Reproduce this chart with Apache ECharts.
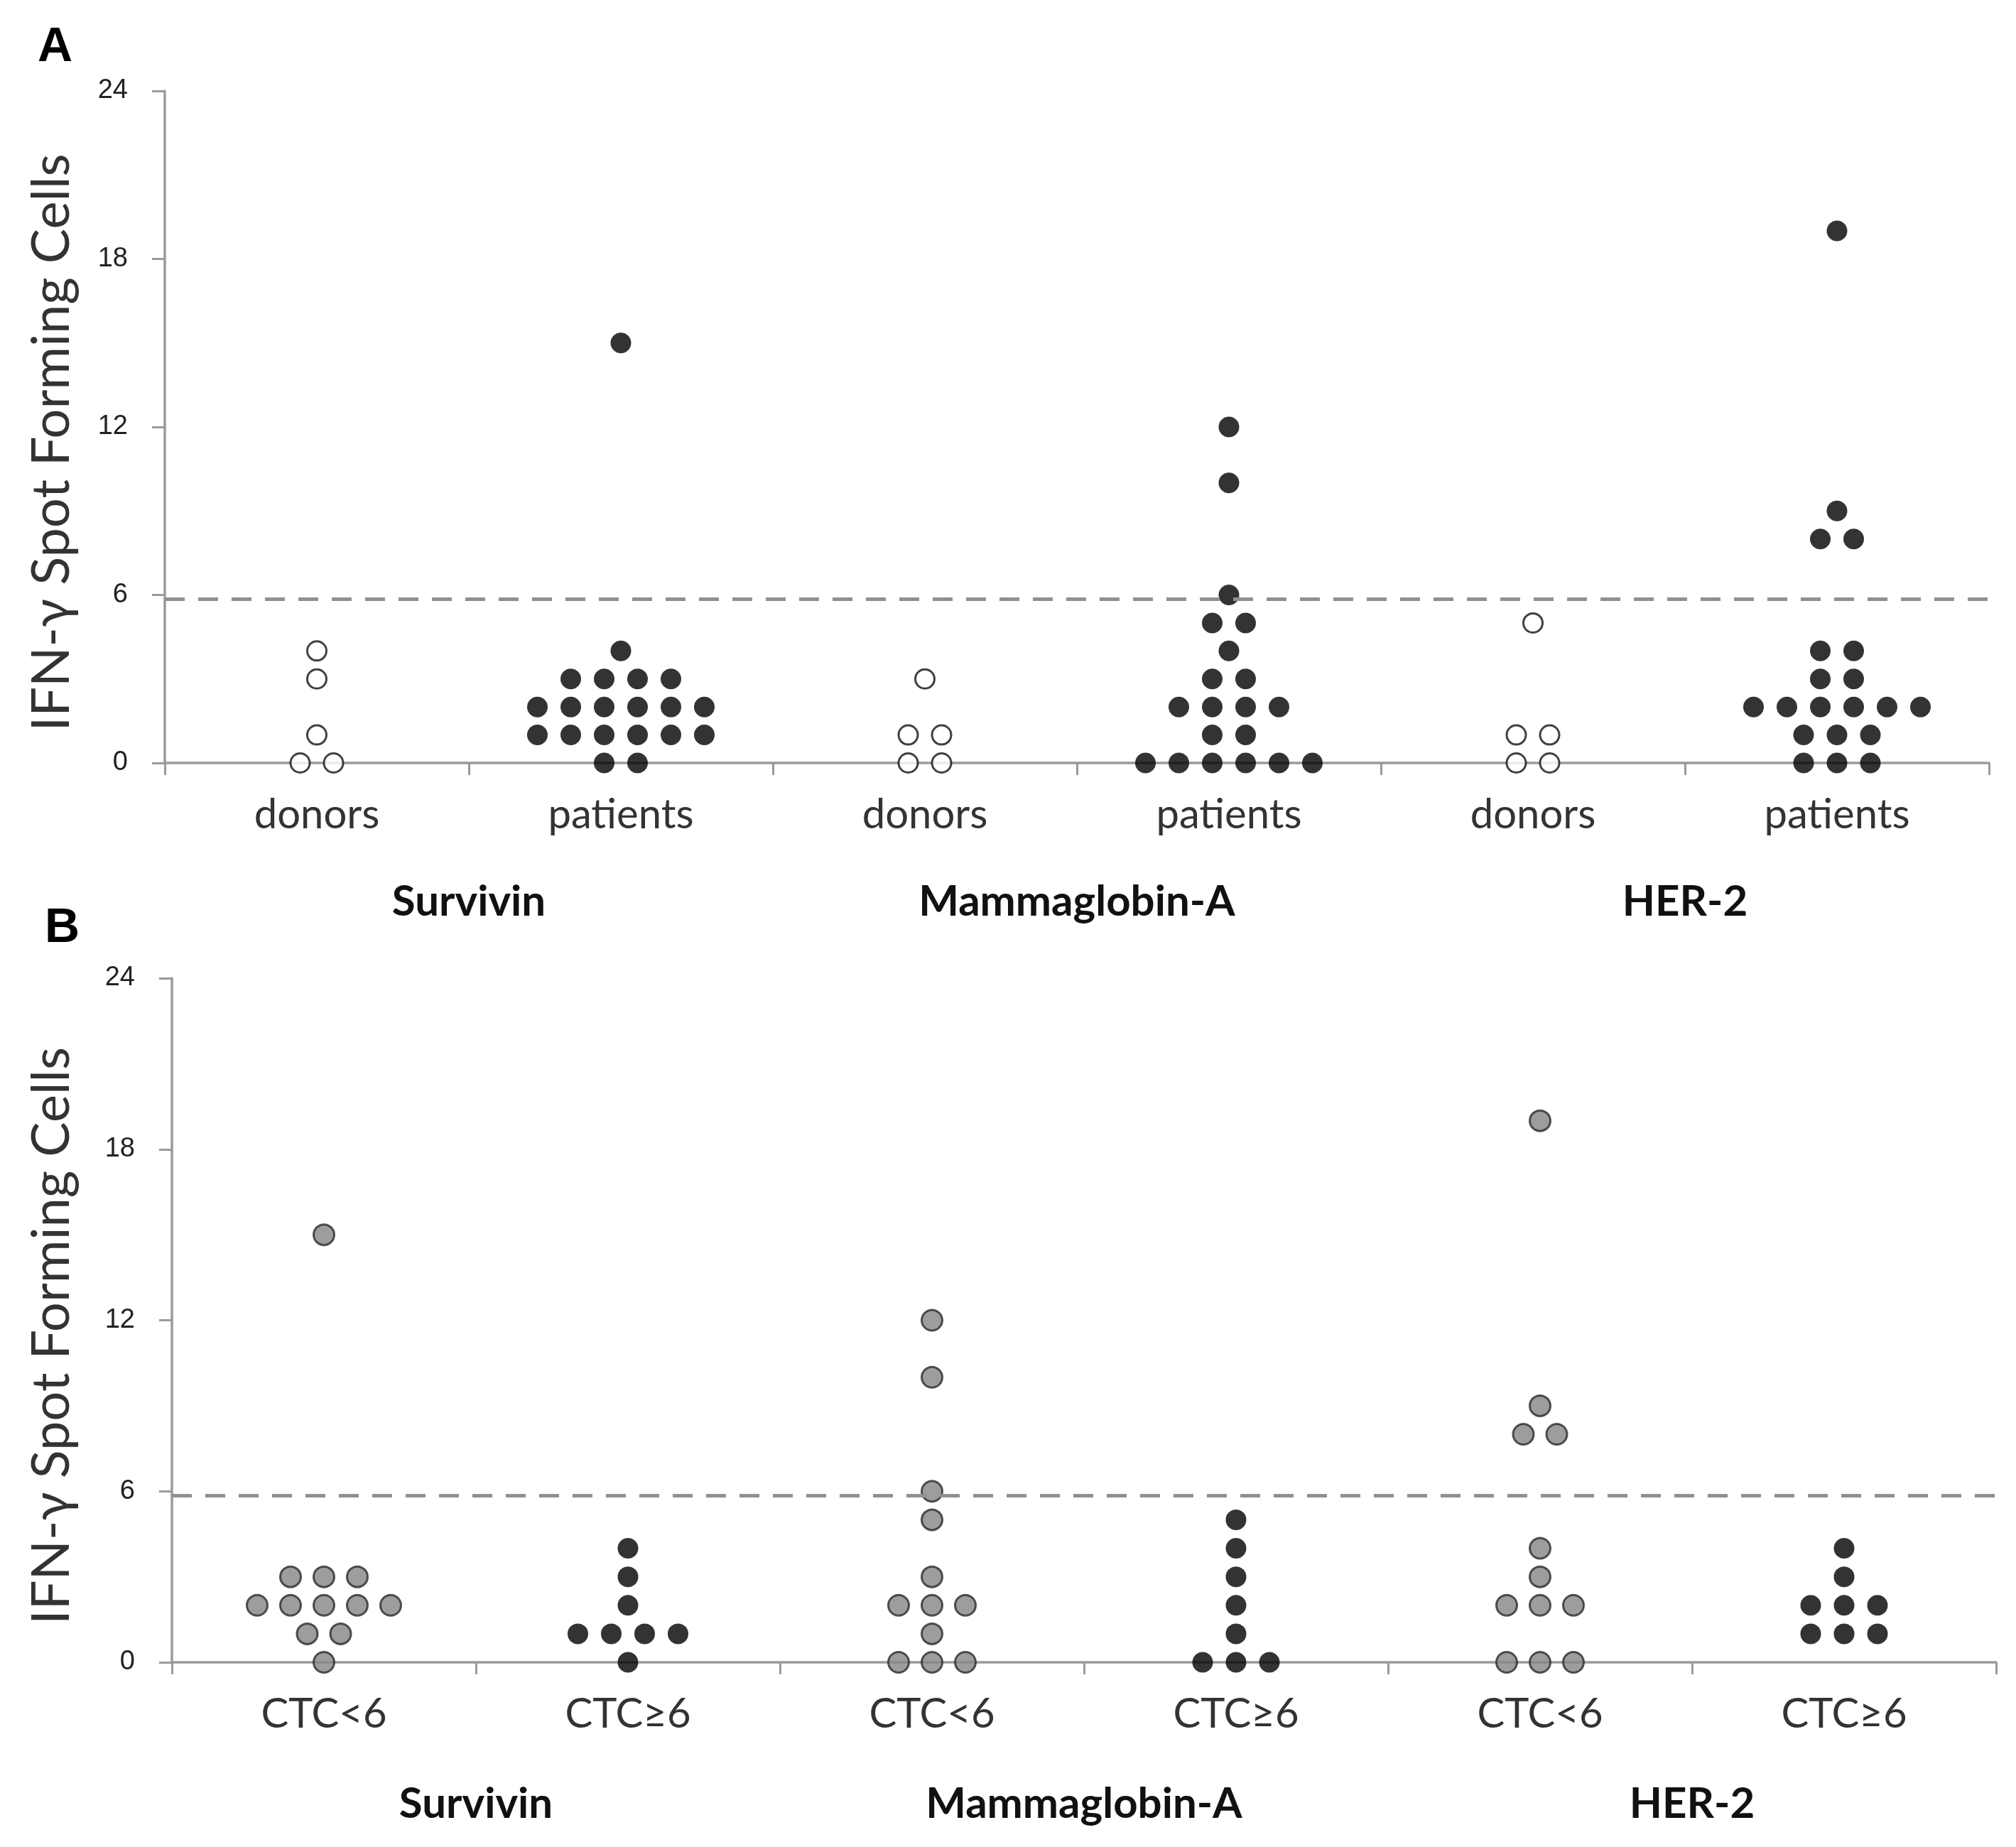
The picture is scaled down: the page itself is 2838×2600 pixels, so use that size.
<!DOCTYPE html>
<html>
<head>
<meta charset="utf-8">
<script src="https://cdn.jsdelivr.net/npm/echarts@6/dist/echarts.min.js"></script>
<style>
  html, body { margin: 0; padding: 0; background: #ffffff; }
  #chart { width: 2838px; height: 2600px; }
</style>
</head>
<body>
<div id="chart"></div>
<script>
// ---------------- data ----------------
const ANTIGENS = ['Survivin', 'Mammaglobin-A', 'HER-2'];
const CATEGORIES_A = ['donors', 'patients', 'donors', 'patients', 'donors', 'patients'];
const CATEGORIES_B = ['CTC<6', 'CTC\u22656', 'CTC<6', 'CTC\u22656', 'CTC<6', 'CTC\u22656'];
const Y_TICKS = [0, 6, 12, 18, 24];
const THRESHOLD = 5.85;
const Y_TITLE = 'IFN-\u03b3 Spot Forming Cells';

// Panel A
const SURVIVIN_DONORS = [4, 3, 1, 0, 0];
const SURVIVIN_PATIENTS = [15, 4, 3, 3, 3, 3, 2, 2, 2, 2, 2, 2, 1, 1, 1, 1, 1, 1, 0, 0];
const MAMMAGLOBIN_DONORS = [3, 1, 1, 0, 0];
const MAMMAGLOBIN_PATIENTS = [12, 10, 6, 5, 5, 4, 3, 3, 2, 2, 2, 2, 1, 1, 0, 0, 0, 0, 0, 0];
const HER2_DONORS = [5, 1, 1, 0, 0];
const HER2_PATIENTS = [19, 9, 8, 8, 4, 4, 3, 3, 2, 2, 2, 2, 2, 2, 1, 1, 1, 0, 0, 0];

// Panel B
const SURVIVIN_CTC_LOW = [15, 3, 3, 3, 2, 2, 2, 2, 2, 1, 1, 0];
const SURVIVIN_CTC_HIGH = [4, 3, 2, 1, 1, 1, 1, 0];
const MAMMAGLOBIN_CTC_LOW = [12, 10, 6, 5, 3, 2, 2, 2, 1, 0, 0, 0];
const MAMMAGLOBIN_CTC_HIGH = [5, 4, 3, 2, 1, 0, 0, 0];
const HER2_CTC_LOW = [19, 9, 8, 8, 4, 3, 2, 2, 2, 0, 0, 0];
const HER2_CTC_HIGH = [4, 3, 2, 2, 2, 1, 1, 1];

// ---------------- layout helpers ----------------
const DOT_STEP = 47; // horizontal spacing between tied dots (px)

// centered dot-plot layout: equal values spread side by side around the category
function swarm(values, catIndex) {
  const counts = {};
  values.forEach(v => { counts[v] = (counts[v] || 0) + 1; });
  const seen = {};
  return values.map(v => {
    const n = counts[v];
    const k = seen[v] || 0;
    seen[v] = k + 1;
    return { value: [catIndex, v], symbolOffset: [(k - (n - 1) / 2) * DOT_STEP, 0] };
  });
}

const axisGray = '#9a9a9a';
const catFont = 'Lato, "Open Sans", sans-serif';
const tickFont = '"Liberation Sans", Arial, sans-serif';

function catAxis(gridIndex, data) {
  return {
    type: 'category', gridIndex, data, position: 'bottom', boundaryGap: true,
    axisLine: { lineStyle: { color: axisGray, width: 3.5 } },
    axisTick: { show: true, interval: 0, length: 17, lineStyle: { color: axisGray, width: 3 } },
    axisLabel: { interval: 0, margin: 44, fontSize: 58, fontFamily: catFont, color: '#333' },
    splitLine: { show: false }
  };
}
function groupAxis(gridIndex, margin) {
  return {
    type: 'category', gridIndex, data: ANTIGENS, position: 'bottom', boundaryGap: true,
    axisLine: { show: false }, axisTick: { show: false },
    axisLabel: { interval: 0, margin, fontSize: 60, fontWeight: 'bold', fontFamily: catFont, color: '#111' },
    splitLine: { show: false }
  };
}
function valAxis(gridIndex, nameGap) {
  return {
    type: 'value', gridIndex, min: Y_TICKS[0], max: Y_TICKS[Y_TICKS.length - 1],
    interval: Y_TICKS[1] - Y_TICKS[0],
    name: Y_TITLE, nameLocation: 'middle', nameGap, nameRotate: 90,
    nameTextStyle: { fontSize: 74, fontFamily: catFont, color: '#333', padding: [0, 44, 0, 0] },
    axisLine: { show: true, lineStyle: { color: axisGray, width: 3.5 } },
    axisTick: { show: true, length: 18, lineStyle: { color: axisGray, width: 3 } },
    axisLabel: { margin: 52, fontSize: 38, fontFamily: tickFont, color: '#222' },
    splitLine: { show: false }
  };
}

const thresholdLine = {
  silent: true, symbol: ['none', 'none'], label: { show: false },
  lineStyle: { type: [28, 19], color: '#909090', width: 5 },
  data: [{ yAxis: THRESHOLD }]
};

const openDot = { color: '#ffffff', borderColor: '#111111', borderWidth: 3 };
const blackDot = { color: '#000000', borderColor: '#000000', borderWidth: 0 };
const grayDot = { color: '#858585', borderColor: '#2a2a2a', borderWidth: 3 };

function dotSeries(xAxisIndex, yAxisIndex, data, style, size, markLine) {
  const s = {
    type: 'scatter', xAxisIndex, yAxisIndex, data, symbol: 'circle', symbolSize: size,
    itemStyle: style, z: 3, silent: true, animation: false
  };
  if (markLine) s.markLine = markLine;
  return s;
}

const donorsA = [].concat(swarm(SURVIVIN_DONORS, 0), swarm(MAMMAGLOBIN_DONORS, 2), swarm(HER2_DONORS, 4));
const patientsA = [].concat(swarm(SURVIVIN_PATIENTS, 1), swarm(MAMMAGLOBIN_PATIENTS, 3), swarm(HER2_PATIENTS, 5));
const lowB = [].concat(swarm(SURVIVIN_CTC_LOW, 0), swarm(MAMMAGLOBIN_CTC_LOW, 2), swarm(HER2_CTC_LOW, 4));
const highB = [].concat(swarm(SURVIVIN_CTC_HIGH, 1), swarm(MAMMAGLOBIN_CTC_HIGH, 3), swarm(HER2_CTC_HIGH, 5));

const option = {
  backgroundColor: '#ffffff',
  animation: false,
  title: [
    { text: 'A', left: 48, top: 28, textStyle: { fontSize: 68, fontWeight: 'bold', fontFamily: tickFont, color: '#000' } },
    { text: 'B', left: 58, top: 1268, textStyle: { fontSize: 68, fontWeight: 'bold', fontFamily: tickFont, color: '#000' } }
  ],
  grid: [
    { left: 232, right: 38, top: 128, height: 946, containLabel: false },
    { left: 242, right: 28, top: 1377, height: 963, containLabel: false }
  ],
  xAxis: [
    catAxis(0, CATEGORIES_A),
    groupAxis(0, 166),
    catAxis(1, CATEGORIES_B),
    groupAxis(1, 170)
  ],
  yAxis: [
    valAxis(0, 122),
    valAxis(1, 132)
  ],
  series: [
    dotSeries(0, 0, donorsA, openDot, 27, thresholdLine),
    dotSeries(0, 0, patientsA, blackDot, 29),
    dotSeries(2, 1, lowB, grayDot, 29, thresholdLine),
    dotSeries(2, 1, highB, blackDot, 29)
  ]
};

const chart = echarts.init(document.getElementById('chart'), null, { renderer: 'canvas' });
chart.setOption(option);
</script>
</body>
</html>
